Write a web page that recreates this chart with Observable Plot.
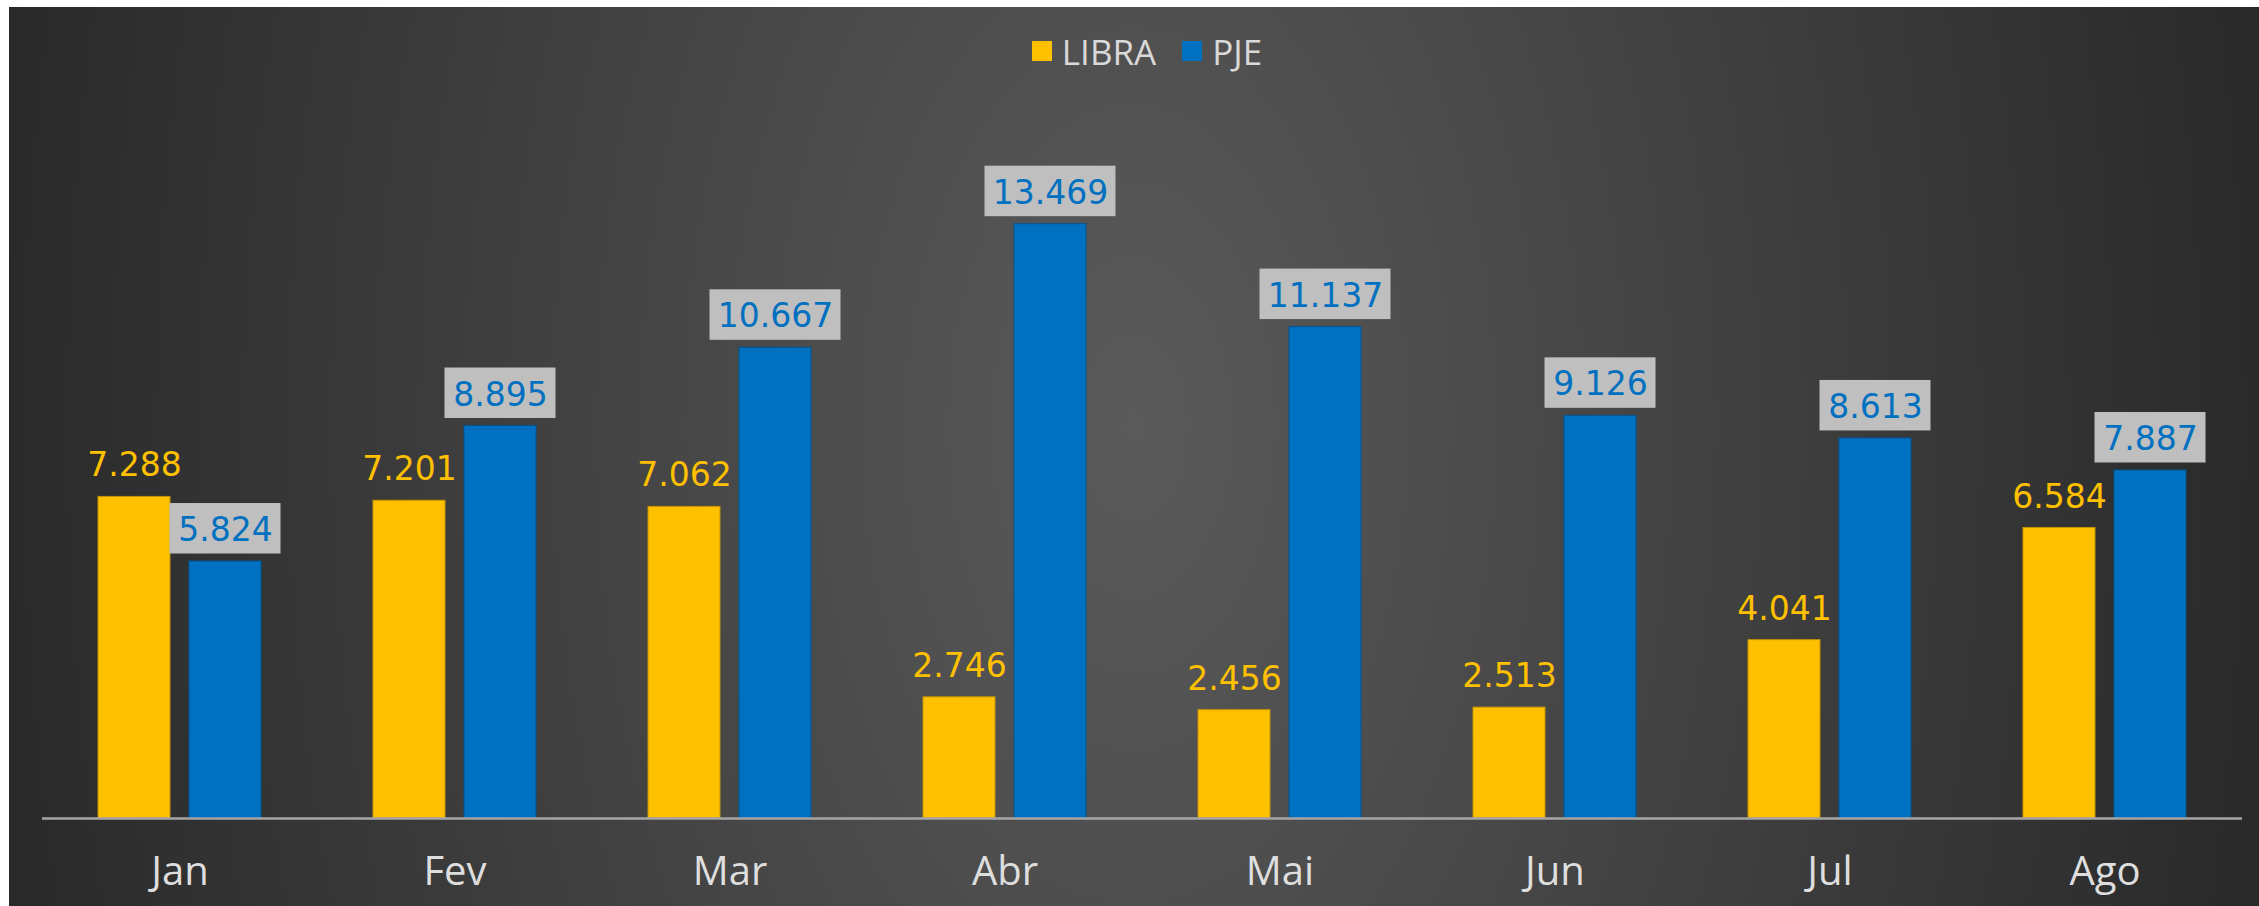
<!DOCTYPE html>
<html>
<head>
<meta charset="utf-8">
<script src="https://cdn.jsdelivr.net/npm/d3@7"></script>
<script src="https://cdn.jsdelivr.net/npm/@observablehq/plot@0.6"></script>
<style>
  html, body { margin: 0; padding: 0; background: #ffffff; }
  #frame {
    position: absolute; left: 9px; top: 7px; width: 2250px; height: 899px;
    background: radial-gradient(ellipse 1150px 2000px at 1125px 420px, #5a5a5a 0%, #292929 100%);
    overflow: hidden;
  }
  #legend {
    height: 70px; box-sizing: border-box; padding-top: 18px; padding-left: 26px;
    display: flex; align-items: center; justify-content: center; gap: 26px;
    font-family: "Open Sans", sans-serif; font-size: 35px; color: #d9d9d9;
  }
  #legend .item { display: flex; align-items: center; gap: 10px; }
  #legend .sw { width: 20px; height: 20px; display: inline-block; }
  svg [aria-label="bars"] { filter: drop-shadow(7px 3px 5px rgba(0,0,0,0.65)); }
</style>
</head>
<body>
<div id="frame">
  <div id="legend"></div>
  <div id="chart"></div>
</div>
<script>
// ---- data ----
const months = ["Jan", "Fev", "Mar", "Abr", "Mai", "Jun", "Jul", "Ago"];
const seriesNames = ["LIBRA", "PJE"];
const libraValues = [7288, 7201, 7062, 2746, 2456, 2513, 4041, 6584];
const pjeValues = [5824, 8895, 10667, 13469, 11137, 9126, 8613, 7887];
const seriesColors = ["#FFC000", "#0070C0"];
const seriesStrokes = ["#c49500", "#005490"];

const fmt = d3.formatLocale({decimal: ",", thousands: ".", grouping: [3], currency: ["R$", ""]}).format(",d");

const libra = months.map((m, i) => ({month: m, series: "LIBRA", value: libraValues[i]}));
const pje = months.map((m, i) => ({month: m, series: "PJE", value: pjeValues[i]}));

// legend
const legend = document.getElementById("legend");
seriesNames.forEach((s, i) => {
  const it = document.createElement("div");
  it.className = "item";
  it.innerHTML = `<span class="sw" style="background:${seriesColors[i]}"></span><span>${s}</span>`;
  legend.appendChild(it);
});

const W = 2250, H = 829, mt = 35, mb = 88, ml = 30, mr = 15;
const yMax = 16000;
const pxToVal = yMax / (H - mt - mb);

const labelFont = {fontFamily: "DejaVu Sans", fontSize: 33};

const chart = Plot.plot({
  width: W,
  height: H,
  marginTop: mt,
  marginBottom: mb,
  marginLeft: ml,
  marginRight: mr,
  style: {background: "transparent", color: "#dedede", fontFamily: "Open Sans", fontSize: "40px", fontWeight: 500},
  fx: {domain: months, padding: 0, label: null, tickSize: 0, tickPadding: 38, axis: "bottom"},
  x: {domain: seriesNames, axis: null, paddingInner: 0.2065, paddingOuter: 0.601},
  y: {domain: [0, yMax], axis: null},
  marks: [
    Plot.barY(libra, {fx: "month", x: "series", y: "value", fill: seriesColors[0], stroke: seriesStrokes[0], strokeWidth: 1, ariaLabel: "bars"}),
    Plot.barY(pje, {fx: "month", x: "series", y: "value", fill: seriesColors[1], stroke: seriesStrokes[1], strokeWidth: 1, ariaLabel: "bars"}),
    Plot.ruleY([0], {stroke: "#a6a6a6", strokeWidth: 2.5}),
    // label boxes for PJE
    Plot.barY(pje.filter(d => fmt(d.value).length <= 5), {fx: "month", x: "series",
      y1: d => d.value + 7.5 * pxToVal, y2: d => d.value + 58 * pxToVal,
      fill: "#bfbfbf", insetLeft: -19.5, insetRight: -19.5}),
    Plot.barY(pje.filter(d => fmt(d.value).length > 5), {fx: "month", x: "series",
      y1: d => d.value + 7.5 * pxToVal, y2: d => d.value + 58 * pxToVal,
      fill: "#bfbfbf", insetLeft: -29.5, insetRight: -29.5}),
    Plot.text(libra, {fx: "month", x: "series", y: "value", text: d => fmt(d.value), dy: -31, fill: seriesColors[0], fontWeight: 400, ...labelFont}),
    Plot.text(pje, {fx: "month", x: "series", y: "value", text: d => fmt(d.value), dy: -31, fill: seriesColors[1], fontWeight: 400, ...labelFont})
  ]
});
document.getElementById("chart").appendChild(chart);
</script>
</body>
</html>
